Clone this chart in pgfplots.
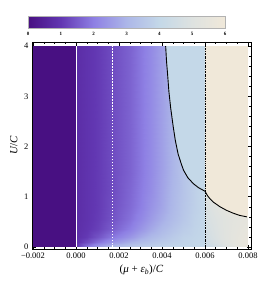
\documentclass[border=0pt]{standalone}
\usepackage{pgfplots}
\pgfplotsset{compat=1.18}
\usepackage{fontspec}
\setmainfont{Liberation Serif}
\definecolor{lblue}{RGB}{196,216,232}
\definecolor{beige}{RGB}{240,232,217}
\pgfplotsset{colormap={mycmap}{rgb255(0)=(72,16,130) rgb255(1)=(98,55,178) rgb255(2)=(142,128,228) rgb255(3)=(172,182,232) rgb255(4)=(196,216,232) rgb255(5)=(222,226,224) rgb255(6)=(240,232,217)}}
\pgfplotstableread{
x y v
-0.002 0 0
-0.0000001 0 0
0 0 1.0
0.0005 0 2.0
0.001 0 2.6
0.0017 0 3.2
0.0025 0 3.5
0.003 0 3.65
0.0035 0 3.75
0.004 0 3.85
0.0045 0 3.9
0.005 0 3.95
0.0055 0 4.0
0.006 0 4.1
0.0060001 0 4.2
0.0065 0 4.5
0.007 0 4.9
0.0075 0 5.3
0.008 0 5.6

-0.002 0.04 0
-0.0000001 0.04 0
0 0.04 0.95
0.0005 0.04 1.7
0.001 0.04 2.3
0.0017 0.04 2.9
0.0025 0.04 3.3
0.003 0.04 3.5
0.0035 0.04 3.6
0.004 0.04 3.75
0.0045 0.04 3.85
0.005 0.04 3.9
0.0055 0.04 3.95
0.006 0.04 4.05
0.0060001 0.04 4.3
0.0065 0.04 4.6
0.007 0.04 5.0
0.0075 0.04 5.35
0.008 0.04 5.6

-0.002 0.1 0
-0.0000001 0.1 0
0 0.1 0.85
0.0005 0.1 1.3
0.001 0.1 1.8
0.0017 0.1 2.4
0.0025 0.1 2.9
0.003 0.1 3.2
0.0035 0.1 3.4
0.004 0.1 3.6
0.0045 0.1 3.75
0.005 0.1 3.85
0.0055 0.1 3.95
0.006 0.1 4.0
0.0060001 0.1 4.4
0.0065 0.1 4.75
0.007 0.1 5.1
0.0075 0.1 5.4
0.008 0.1 5.6

-0.002 0.2 0
-0.0000001 0.2 0
0 0.2 0.8
0.0005 0.2 1.05
0.001 0.2 1.4
0.0017 0.2 1.9
0.0025 0.2 2.4
0.003 0.2 2.8
0.0035 0.2 3.1
0.004 0.2 3.35
0.0045 0.2 3.6
0.005 0.2 3.8
0.0055 0.2 3.9
0.006 0.2 4.0
0.0060001 0.2 4.5
0.0065 0.2 4.85
0.007 0.2 5.15
0.0075 0.2 5.4
0.008 0.2 5.6

-0.002 0.35 0
-0.0000001 0.35 0
0 0.35 0.77
0.0005 0.35 0.95
0.001 0.35 1.15
0.0017 0.35 1.55
0.0025 0.35 2.0
0.003 0.35 2.4
0.0035 0.35 2.75
0.004 0.35 3.1
0.0045 0.35 3.4
0.005 0.35 3.65
0.0055 0.35 3.85
0.006 0.35 4.0
0.0060001 0.35 4.6
0.0065 0.35 4.9
0.007 0.35 5.15
0.0075 0.35 5.35
0.008 0.35 5.5

-0.002 0.55 0
-0.0000001 0.55 0
0 0.55 0.75
0.0005 0.55 0.9
0.001 0.55 1.08
0.0017 0.55 1.4
0.0025 0.55 1.8
0.003 0.55 2.15
0.0035 0.55 2.5
0.004 0.55 2.85
0.0045 0.55 3.2
0.005 0.55 3.5
0.0055 0.55 3.8
0.006 0.55 4.0
0.0060001 0.55 4.7
0.0065 0.55 4.95
0.007 0.55 5.15
0.0075 0.55 5.3
0.008 0.55 5.4

-0.002 0.8 0
-0.0000001 0.8 0
0 0.8 0.75
0.0005 0.8 0.9
0.001 0.8 1.05
0.0017 0.8 1.35
0.0025 0.8 1.7
0.003 0.8 2.0
0.0035 0.8 2.35
0.004 0.8 2.7
0.0045 0.8 3.1
0.005 0.8 3.45
0.0055 0.8 3.75
0.006 0.8 4.0
0.0060001 0.8 4.8
0.0065 0.8 5.1
0.007 0.8 5.4
0.0075 0.8 5.7
0.008 0.8 5.9

-0.002 1.1 0
-0.0000001 1.1 0
0 1.1 0.75
0.0005 1.1 0.9
0.001 1.1 1.05
0.0017 1.1 1.3
0.0025 1.1 1.65
0.003 1.1 1.95
0.0035 1.1 2.25
0.004 1.1 2.65
0.0045 1.1 3.05
0.005 1.1 3.4
0.0055 1.1 3.75
0.006 1.1 4.0
0.0060001 1.1 5.0
0.0065 1.1 5.5
0.007 1.1 5.8
0.0075 1.1 5.9
0.008 1.1 6.0

-0.002 1.5 0
-0.0000001 1.5 0
0 1.5 0.75
0.0005 1.5 0.9
0.001 1.5 1.05
0.0017 1.5 1.3
0.0025 1.5 1.6
0.003 1.5 1.9
0.0035 1.5 2.2
0.004 1.5 2.6
0.0045 1.5 3.0
0.005 1.5 3.4
0.0055 1.5 3.75
0.006 1.5 4.0
0.0060001 1.5 5.9
0.0065 1.5 5.9
0.007 1.5 5.9
0.0075 1.5 5.9
0.008 1.5 5.9

-0.002 2.5 0
-0.0000001 2.5 0
0 2.5 0.75
0.0005 2.5 0.9
0.001 2.5 1.05
0.0017 2.5 1.3
0.0025 2.5 1.6
0.003 2.5 1.9
0.0035 2.5 2.2
0.004 2.5 2.6
0.0045 2.5 3.0
0.005 2.5 3.4
0.0055 2.5 3.75
0.006 2.5 4.0
0.0060001 2.5 5.9
0.0065 2.5 5.9
0.007 2.5 5.9
0.0075 2.5 5.9
0.008 2.5 5.9

-0.002 4.0 0
-0.0000001 4.0 0
0 4.0 0.75
0.0005 4.0 0.9
0.001 4.0 1.05
0.0017 4.0 1.3
0.0025 4.0 1.6
0.003 4.0 1.9
0.0035 4.0 2.2
0.004 4.0 2.6
0.0045 4.0 3.0
0.005 4.0 3.4
0.0055 4.0 3.75
0.006 4.0 4.0
0.0060001 4.0 5.9
0.0065 4.0 5.9
0.007 4.0 5.9
0.0075 4.0 5.9
0.008 4.0 5.9
}\gridtable
\begin{document}
\begin{tikzpicture}
\begin{axis}[
  scale only axis, width=219bp, height=207bp,
  xmin=-0.002047, xmax=0.00814, ymin=-0.04, ymax=4.08,
  scaled x ticks=false, scaled y ticks=false,
  xtick={-0.002,0,0.002,0.004,0.006,0.008},
  xticklabels={−0.002,0.000,0.002,0.004,0.006,0.008},
  ytick={0,1,2,3,4}, yticklabels={0,1,2,3,4},
  minor x tick num=3, minor y tick num=4,
  tick align=inside, tick pos=both,
  xticklabel pos=bottom, yticklabel pos=left,
  major tick length=4bp, minor tick length=2bp,
  tick style={black, line width=0.5pt},
  axis line style={line width=0.6pt},
  tick label style={font=\fontsize{8.5}{9}\selectfont},
  label style={font=\fontsize{11}{12}\selectfont},
  xlabel={(\textit{μ} + \textit{ε}\textsubscript{\textit{b}})/\textit{C}},
  ylabel={\textit{U}/\textit{C}},
  colormap name=mycmap,
  point meta min=0, point meta max=6,
  colorbar horizontal,
  colorbar style={
    at={(parent axis.north west)}, anchor=south west,
    xshift=-4bp, yshift=22bp,
    scale only axis, width=197bp, height=12bp,
    scaled x ticks=false,
    xtick={0,1,2,3,4,5,6}, xticklabels={0,1,2,3,4,5,6},
    minor x tick num=0,
    major tick length=0pt,
    axis line style={draw=gray!60, line width=0.5pt},
    xticklabel style={font=\fontsize{5}{5.5}\selectfont\bfseries},
    xticklabel pos=bottom,
  },
]
\addplot[surf, shader=interp, mesh/cols=19, point meta=\thisrow{v}] table[x=x, y=y] {\gridtable};
\addplot[fill=lblue, draw=none] coordinates {(0.00417,4.0) (0.00421,3.7) (0.00426,3.44) (0.00432,3.1) (0.0044,2.78) (0.00452,2.4) (0.00462,2.12) (0.00475,1.85) (0.0049,1.65) (0.0050,1.53) (0.0052,1.38) (0.00546,1.26) (0.0057,1.18) (0.0060,1.11) (0.0060,4.0)};
\addplot[fill=beige, draw=none] coordinates {(0.0060,4.0) (0.0060,1.11) (0.00612,1.02) (0.00623,0.96) (0.0064,0.89) (0.0067,0.80) (0.0070,0.73) (0.0073,0.675) (0.0076,0.63) (0.0079,0.60) (0.008,0.595) (0.008,4.0)};
\addplot[white, line width=1pt] coordinates {(0,0) (0,4)};
\addplot[white, line width=1pt, dash pattern=on 1.5pt off 1.5pt] coordinates {(0.0017,0) (0.0017,4)};
\addplot[black, line width=0.8pt, dash pattern=on 2pt off 1pt on 0.6pt off 1pt] coordinates {(0.006,0) (0.006,4)};
\addplot[black, line width=0.9pt] coordinates {(0.00417,4.0) (0.00421,3.7) (0.00426,3.44) (0.00432,3.1) (0.0044,2.78) (0.00452,2.4) (0.00462,2.12) (0.00475,1.85) (0.0049,1.65) (0.0050,1.53) (0.0052,1.38) (0.00546,1.26) (0.0057,1.18) (0.0060,1.11) (0.00612,1.02) (0.00623,0.96) (0.0064,0.89) (0.0067,0.80) (0.0070,0.73) (0.0073,0.675) (0.0076,0.63) (0.00795,0.60)};
\end{axis}
\pgfresetboundingbox
\path (current axis.south west) ++(-32bp,-36bp) rectangle ++(260bp,285bp);
\end{tikzpicture}
\end{document}
